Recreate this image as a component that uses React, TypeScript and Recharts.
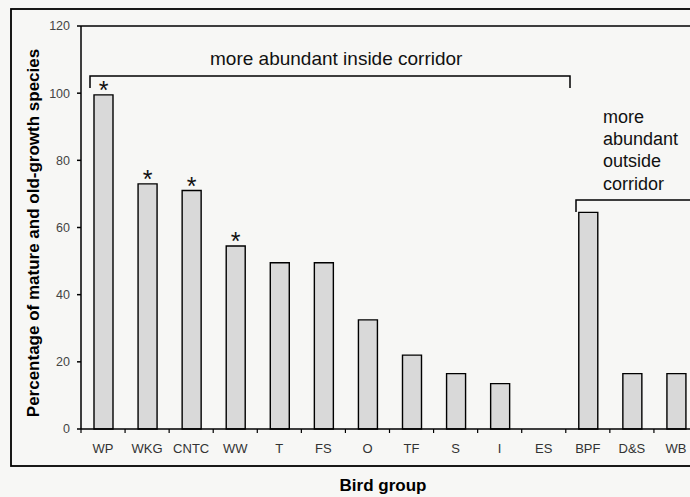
import React from "react";
import {
  Bar,
  BarChart,
  LabelList,
  ReferenceLine,
  XAxis,
  YAxis,
} from "recharts";

// bird groups and % of mature / old-growth species
const groups = ["WP", "WKG", "CNTC", "WW", "T", "FS", "O", "TF", "S", "I", "ES", "BPF", "D&S", "WB"];
const percentages = [99.5, 73, 71, 54.5, 49.5, 49.5, 32.5, 22, 16.5, 13.5, 0, 64.5, 16.5, 16.5];
const starredGroups = ["WP", "WKG", "CNTC", "WW"];
const yTicks = [0, 20, 40, 60, 80, 100, 120];

const FONT = "'Liberation Sans', Arial, sans-serif";

const data = groups.map((g, i) => ({
  group: g,
  pct: percentages[i],
  star: starredGroups.includes(g),
}));

function GroupTick(props: any) {
  const { x, y, payload } = props;
  const half = payload && payload.offset ? payload.offset : 22;
  return (
    <g>
      <line x1={x - half} y1={y - 4} x2={x - half} y2={y} stroke="#000" strokeWidth={1.2} />
      <text x={x} y={y + 20} textAnchor="middle" fontSize={13} fill="#333" fontFamily={FONT}>
        {payload.value}
      </text>
    </g>
  );
}

function Star(props: any) {
  const { x, y, width, index } = props;
  if (!data[index] || !data[index].star) return null;
  return (
    <text x={x + width / 2} y={y + 4} textAnchor="middle" fontSize={25} fill="#111" fontFamily={FONT}>
      *
    </text>
  );
}

export default function App() {
  return (
    <div
      style={{
        position: "absolute",
        left: 0,
        top: 0,
        width: 690,
        height: 497,
        overflow: "hidden",
        background: "#f7f7f5",
      }}
    >
      <BarChart
        width={720}
        height={497}
        data={data}
        margin={{ top: 26, right: 22, bottom: 38, left: 0 }}
      >
        <XAxis
          dataKey="group"
          height={30}
          stroke="#000"
          strokeWidth={1.5}
          tickLine={false}
          tickSize={4}
          tickMargin={0}
          interval={0}
          tick={<GroupTick />}
        />
        <YAxis
          width={81}
          domain={[0, 120]}
          ticks={yTicks}
          stroke="#000"
          strokeWidth={1.5}
          tickSize={4}
          tickMargin={7}
          tick={{ fontSize: 12.5, fill: "#444", fontFamily: FONT }}
        />
        <ReferenceLine y={120} stroke="#000" strokeWidth={1.5} />
        <Bar
          dataKey="pct"
          barSize={19}
          fill="#d9d9d9"
          stroke="#000"
          strokeWidth={1.4}
          isAnimationActive={false}
        >
          <LabelList dataKey="pct" content={<Star />} />
        </Bar>
      </BarChart>

      {/* frame, axis titles and the two brackets */}
      <svg
        width={690}
        height={497}
        style={{ position: "absolute", left: 0, top: 0, pointerEvents: "none" }}
        fontFamily={FONT}
      >
        <rect x={11} y={9} width={720} height={457} fill="none" stroke="#000" strokeWidth={1.8} />
        <text
          transform="translate(39, 233) rotate(-90)"
          textAnchor="middle"
          fontSize={17}
          fontWeight="bold"
          fill="#000"
        >
          Percentage of mature and old-growth species
        </text>
        <text x={383} y={491} textAnchor="middle" fontSize={17} fontWeight="bold" fill="#000">
          Bird group
        </text>

        <text x={210} y={65} fontSize={19} fill="#111">
          more abundant inside corridor
        </text>
        <polyline points="90,88 90,76 570,76 570,88" fill="none" stroke="#000" strokeWidth={1.5} />

        <text x={603} fontSize={18} fill="#111">
          <tspan x={603} y={123}>more</tspan>
          <tspan x={603} y={145}>abundant</tspan>
          <tspan x={603} y={167}>outside</tspan>
          <tspan x={603} y={190}>corridor</tspan>
        </text>
        <polyline points="576,212 576,200 720,200" fill="none" stroke="#000" strokeWidth={1.5} />
      </svg>
    </div>
  );
}
